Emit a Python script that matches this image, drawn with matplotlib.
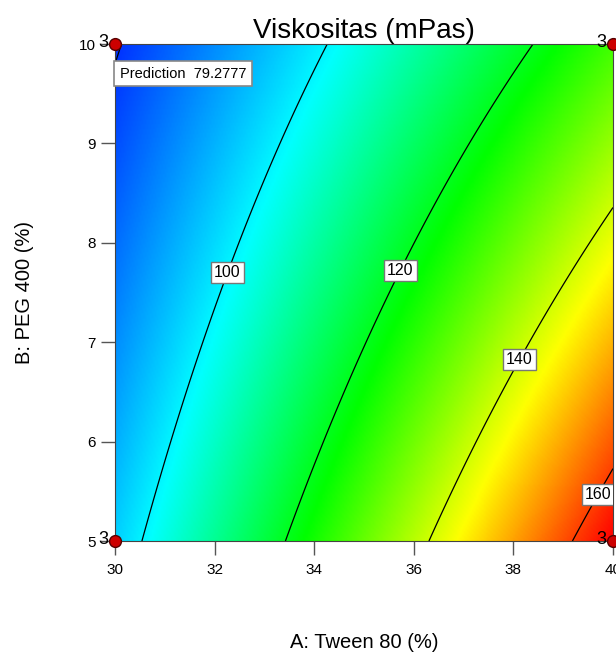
import numpy as np
import matplotlib
matplotlib.use("Agg")
import matplotlib.pyplot as plt
from matplotlib.colors import LinearSegmentedColormap

plt.rcParams['font.family'] = ['Liberation Sans', 'DejaVu Sans']

# factor ranges
a_range = [30, 40]      # A: Tween 80 (%)
b_range = [5, 10]       # B: PEG 400 (%)

# coded model coefficients
coef_terms = ['I', 'A', 'B', 'AB', 'A2', 'B2']
coef_values = [117.0, 29.45, -13.69, -5.25, 0.0, 0.26]

unlabelled_levels = [80]
labelled_levels = [100, 120, 140, 160]

# design points (corners) and replicate counts
design_a = [30, 40, 30, 40]
design_b = [10, 10, 5, 5]
replicates = [3, 3, 3, 3]

prediction_value = 79.2777


def response(A, B):
    a = (A - 35) / 5.0
    b = (B - 7.5) / 2.5
    c = dict(zip(coef_terms, coef_values))
    return (c['I'] + c['A'] * a + c['B'] * b + c['AB'] * a * b
            + c['A2'] * a ** 2 + c['B2'] * b ** 2)


def main():
    fig = plt.figure(figsize=(6.16, 6.55), dpi=100)
    ax = fig.add_axes([0.1867, 0.174, 0.8084, 0.7588])

    A = np.linspace(a_range[0], a_range[1], 300)
    B = np.linspace(b_range[0], b_range[1], 300)
    AA, BB = np.meshgrid(A, B)
    Z = response(AA, BB)

    cmap = LinearSegmentedColormap.from_list(
        'de', ['#0030ff', '#00ffff', '#00ff00', '#ffff00', '#ff0000'])
    ax.imshow(Z, origin='lower', extent=[a_range[0], a_range[1], b_range[0], b_range[1]],
              cmap=cmap, aspect='auto', interpolation='bilinear')

    ax.contour(AA, BB, Z, levels=unlabelled_levels, colors='black', linewidths=0.9)
    cs = ax.contour(AA, BB, Z, levels=labelled_levels, colors='black', linewidths=0.9)
    label_spots = [(32.15, 7.72), (35.62, 7.75), (38.03, 6.85), (39.6, 5.5)]
    texts = ax.clabel(cs, manual=label_spots, inline=False, fmt='%d', fontsize=11.5)
    for t in texts:
        t.set_rotation(0)
        t.set_zorder(4)
        t.set_bbox(dict(facecolor='white', edgecolor='#777777', pad=2.2, linewidth=1))

    # design points
    ax.plot(design_a, design_b, 'o', ms=8.5, mfc='#cc0000', mec='#550000',
            mew=1, clip_on=False, zorder=5)
    for xa, yb, n in zip(design_a, design_b, replicates):
        ax.annotate(str(n), (xa, yb), xytext=(-5, 1), textcoords='offset points',
                    ha='right', va='center', fontsize=13, zorder=6)

    # prediction flag
    ax.text(30.1, 9.7, f"Prediction  {prediction_value}", fontsize=10.5,
            ha='left', va='center',
            bbox=dict(facecolor='white', edgecolor='#888888', pad=4, linewidth=1.2))

    ax.set_xlim(a_range)
    ax.set_ylim(b_range)
    ax.set_xticks(np.arange(30, 41, 2))
    ax.set_yticks(np.arange(5, 11, 1))
    ax.tick_params(axis='both', length=10, width=1, color='#555555', labelsize=11)
    ax.tick_params(axis='x', pad=6)
    ax.tick_params(axis='y', pad=4)
    for s in ax.spines.values():
        s.set_color('#444444')
        s.set_linewidth(0.8)

    ax.set_title("Viskositas (mPas)", fontsize=20, pad=2)
    ax.set_xlabel("A: Tween 80 (%)", fontsize=14.5, labelpad=40)
    ax.set_ylabel("B: PEG 400 (%)", fontsize=14.5, labelpad=32)

    fig.savefig("out.png", dpi=100)


if __name__ == "__main__":
    main()
